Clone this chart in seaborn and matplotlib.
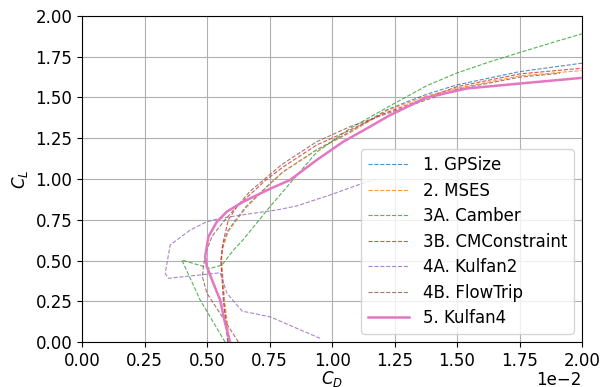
import matplotlib
matplotlib.use("Agg")
import matplotlib.pyplot as plt
import seaborn as sns
import pandas as pd

# Drag polars (C_D, C_L) for each design case
gpsize_cd = [0.00582, 0.00568, 0.00556, 0.00560, 0.00582, 0.00615, 0.00655, 0.00750,
             0.00805, 0.00939, 0.01072, 0.01220, 0.01379, 0.01500, 0.01750, 0.02000]
gpsize_cl = [0.0, 0.25, 0.50, 0.58, 0.68, 0.75, 0.83, 0.97,
             1.045, 1.18, 1.29, 1.425, 1.52, 1.577, 1.658, 1.71]

mses_cd = [0.00590, 0.00570, 0.00558, 0.00560, 0.00585, 0.00619, 0.00659, 0.00752,
           0.00805, 0.00939, 0.01072, 0.01220, 0.01379, 0.01500, 0.01750, 0.02000]
mses_cl = [0.0, 0.25, 0.50, 0.564, 0.68, 0.75, 0.83, 0.97,
           1.045, 1.178, 1.284, 1.42, 1.51, 1.556, 1.632, 1.665]

camber_cd = [0.00572, 0.00472, 0.00399, 0.00512, 0.00559, 0.00605, 0.00640, 0.00735,
             0.00835, 0.00939, 0.01072, 0.01250, 0.01379, 0.01500, 0.01630, 0.01750,
             0.01900, 0.02000]
camber_cl = [0.0, 0.258, 0.503, 0.452, 0.472, 0.564, 0.62, 0.80,
             0.98, 1.165, 1.31, 1.464, 1.572, 1.650, 1.718, 1.775,
             1.845, 1.89]

cmcon_cd = [0.00585, 0.00565, 0.00555, 0.00565, 0.00585, 0.00619, 0.00735, 0.00805,
            0.00939, 0.01072, 0.01205, 0.01500, 0.01750, 0.02000]
cmcon_cl = [0.0, 0.25, 0.50, 0.62, 0.75, 0.83, 0.994, 1.075,
            1.209, 1.30, 1.40, 1.566, 1.644, 1.679]

kulfan2_cd = [0.00952, 0.00752, 0.00640, 0.00579, 0.00552, 0.00345, 0.00332, 0.00352,
              0.00432, 0.00499, 0.00552, 0.00685, 0.00779, 0.00859, 0.00992, 0.01139, 0.01180]
kulfan2_cl = [0.023, 0.155, 0.19, 0.30, 0.425, 0.391, 0.421, 0.595,
              0.687, 0.738, 0.759, 0.79, 0.81, 0.835, 0.902, 0.983, 1.0]

flowtrip_cd = [0.00625, 0.00552, 0.00499, 0.00481, 0.00485, 0.00495, 0.00520, 0.00572,
               0.00672, 0.00800, 0.00939, 0.01072, 0.01205, 0.01500, 0.01750, 0.01912]
flowtrip_cl = [0.0, 0.176, 0.30, 0.40, 0.462, 0.55, 0.65, 0.75,
               0.925, 1.09, 1.229, 1.321, 1.393, 1.55, 1.624, 1.648]

kulfan4_cd = [0.00592, 0.00572, 0.00552, 0.00525, 0.00499, 0.00492, 0.00505, 0.00539,
              0.00579, 0.00645, 0.00752, 0.00832, 0.00939, 0.01045, 0.01152, 0.01230,
              0.01379, 0.01540, 0.01750, 0.02000]
kulfan4_cl = [0.0, 0.115, 0.258, 0.36, 0.462, 0.523, 0.646, 0.738,
              0.80, 0.861, 0.94, 0.994, 1.117, 1.229, 1.321, 1.39,
              1.50, 1.555, 1.585, 1.62]

labels = ["1. GPSize", "2. MSES", "3A. Camber", "3B. CMConstraint",
          "4A. Kulfan2", "4B. FlowTrip", "5. Kulfan4"]
series = [(gpsize_cd, gpsize_cl), (mses_cd, mses_cl), (camber_cd, camber_cl),
          (cmcon_cd, cmcon_cl), (kulfan2_cd, kulfan2_cl),
          (flowtrip_cd, flowtrip_cl), (kulfan4_cd, kulfan4_cl)]

palette = sns.color_palette("tab10")
colors = palette[:7]

FS = 12
plt.rcParams["font.family"] = ["DejaVu Sans"]
plt.rcParams["font.size"] = FS

fig = plt.figure(figsize=(6.0, 3.87), dpi=100)
ax = fig.add_axes([0.137, 0.116, 0.833, 0.843])

for i, (label, (cd, cl)) in enumerate(zip(labels, series)):
    df = pd.DataFrame({"CD": cd, "CL": cl})
    if label.startswith("5."):
        sns.lineplot(data=df, x="CD", y="CL", sort=False, estimator=None, ax=ax,
                     color=colors[i], lw=1.8, label=label, zorder=3)
    else:
        sns.lineplot(data=df, x="CD", y="CL", sort=False, estimator=None, ax=ax,
                     color=colors[i], lw=0.8, ls="--", alpha=0.8, label=label,
                     zorder=2)

ax.set_xlim(0, 0.02)
ax.set_ylim(0, 2.0)
ax.set_xticks([i * 0.0025 for i in range(9)])
ax.set_yticks([i * 0.25 for i in range(9)])
ax.ticklabel_format(axis="x", style="sci", scilimits=(0, 0))
ax.xaxis.OFFSETTEXTPAD = 0.5
ax.grid(True, color="#b0b0b0", lw=0.8)
ax.set_axisbelow(True)
ax.set_xlabel("$C_D$", fontsize=FS)
ax.xaxis.set_label_coords(0.5, -0.081)
ax.set_ylabel("$C_L$", fontsize=FS)
ax.tick_params(labelsize=FS)

handles = ax.get_lines()
ax.legend(handles=handles, labels=labels, loc="lower right", fontsize=FS,
          handlelength=2.5, handletextpad=0.8, labelspacing=0.45, framealpha=0.8)

fig.savefig("out.png", dpi=100)
